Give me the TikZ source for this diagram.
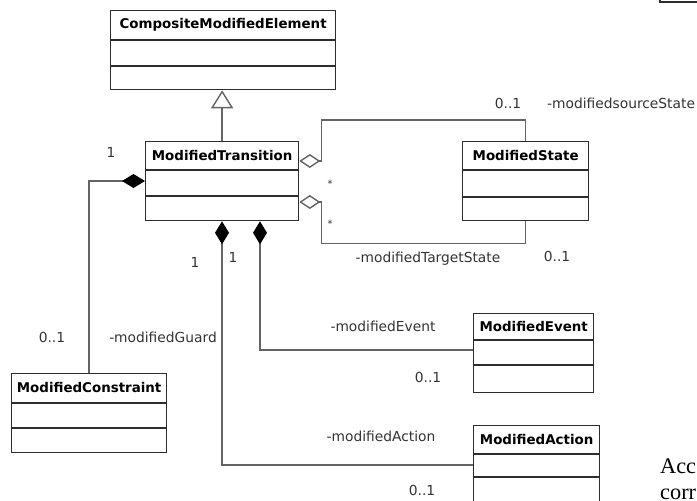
\documentclass[tikz,border=0pt]{standalone}
\usepackage{fontspec}
\setmainfont{DejaVu Sans}
\newfontfamily\pagefont{Liberation Serif}
\usetikzlibrary{arrows.meta,calc}
\definecolor{BoxClr}{RGB}{45,45,45}
\definecolor{LinkClr}{RGB}{100,100,100}

\tikzset{
  ClassBox/.style={draw=BoxClr,line width=1.3pt,fill=white,inner sep=0pt,anchor=north west,minimum height=79pt},
  ClassName/.style={font=\fontsize{13.4}{16}\selectfont\bfseries,inner sep=0pt,text=black},
  ClassRule/.style={BoxClr,line width=1.3pt},
  Link/.style={LinkClr,line width=1.4pt},
  Comp/.style={Link,-{Diamond[length=23pt,width=14pt,color=black,fill=black]}},
  Aggr/.style={Link,-{Diamond[length=21pt,width=14pt,fill=white]}},
  Gen/.style={Link,-{Triangle[length=18pt,width=22pt,fill=white]}},
  Lbl/.style={font=\fontsize{13.8}{16}\selectfont,inner sep=0pt,text=black!80},
  PageTxt/.style={font=\pagefont\fontsize{22.3}{26}\selectfont,anchor=base west,inner sep=0pt},
}

% name, x, y, width, title, first rule, second rule
\newcommand{\UmlClass}[7]{%
  \node[ClassBox,minimum width=#4pt] (#1) at (#2,#3) {};
  \node[ClassName] (#1-t) at ($(#1.north)+(0,#6/2)$) {#5};
  \draw[ClassRule] ($(#1.north west)+(0,#6)$) -- ($(#1.north east)+(0,#6)$);
  \draw[ClassRule] ($(#1.north west)+(0,#7)$) -- ($(#1.north east)+(0,#7)$);
}

\begin{document}
\begin{tikzpicture}[x=1pt,y=-1pt]
\useasboundingbox (0,0) rectangle (697,501);

% Classes.
\UmlClass{cme}{110}{10}{225}{CompositeModifiedElement}{30}{56}
\UmlClass{mt}{145}{141}{153}{ModifiedTransition}{29}{55}
\UmlClass{ms}{462}{141}{126}{ModifiedState}{29}{56}
\UmlClass{mc}{11}{373}{155}{ModifiedConstraint}{30}{55}
\UmlClass{mev}{473}{313}{120}{ModifiedEvent}{27}{52}
\UmlClass{ma}{473}{425}{126}{ModifiedAction}{29}{52}

% Generalization.
\draw[Gen] (mt.north) -- (mt.north |- cme.south);

% Source and target state.
\draw[Aggr] (ms.north) -- ++(0,-21) -| ($(mt.north east)+(22,20)$) -- ($(mt.north east)+(0,20)$);
\draw[Aggr] (ms.south) -- ++(0,22) -| ($(mt.north east)+(22,61)$) -- ($(mt.north east)+(0,61)$);

% Guard, event, action.
\draw[Comp] (mc.north) |- ($(mt.north west)+(0,40)$);
\draw[Comp] ($(mev.north west)+(0,37)$) -| ($(mt.south west)+(115,0)$);
\draw[Comp] (ma.west) -| ($(mt.south west)+(77,0)$);

% Role names and multiplicities.
\node[Lbl,anchor=base] (l-g1) at (111,157) {1};
\node[Lbl,anchor=base] (l-g01) at (52,342) {0..1};
\node[Lbl,anchor=base] (l-grd) at (163,342) {-modifiedGuard};
\node[Lbl,anchor=base] (l-a1) at (195,267) {1};
\node[Lbl,anchor=base] (l-e1) at (233,262) {1};
\node[Lbl,anchor=base] (l-s01) at (508,108) {0..1};
\node[Lbl,anchor=base west] (l-src) at (547,108) {-modifiedsourceState};
\node[Lbl,font=\fontsize{10}{12}\selectfont] (l-s) at (330,184) {*};
\node[Lbl,font=\fontsize{10}{12}\selectfont] (l-t) at (330,224) {*};
\node[Lbl,anchor=base] (l-tgt) at (428,262) {-modifiedTargetState};
\node[Lbl,anchor=base] (l-t01) at (557,261) {0..1};
\node[Lbl,anchor=base] (l-evt) at (383,331) {-modifiedEvent};
\node[Lbl,anchor=base] (l-e01) at (428,382) {0..1};
\node[Lbl,anchor=base] (l-act) at (381,441) {-modifiedAction};
\node[Lbl,anchor=base] (l-a01) at (422,495) {0..1};

% Edge of the page.
\draw[ClassRule] (660,-4) |- (702,2);
\node[PageTxt] (pg-a) at (660,473) {Acc};
\node[PageTxt] (pg-b) at (660,499) {corr};

\end{tikzpicture}
\end{document}
